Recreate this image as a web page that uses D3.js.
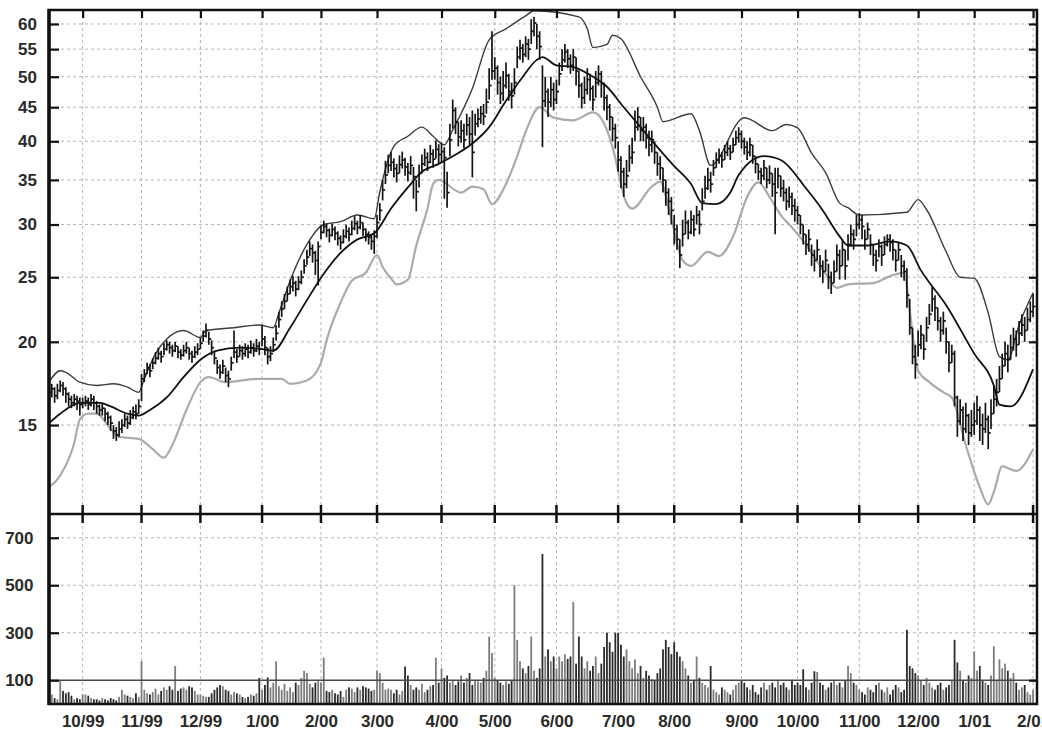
<!DOCTYPE html>
<html>
<head>
<meta charset="utf-8">
<script src="https://cdn.jsdelivr.net/npm/d3@7"></script>
<style>
body { margin: 0; background: #fff; }
svg { display: block; font-family: "Liberation Sans", Arial, sans-serif; }
</style>
</head>
<body>
<svg width="1042" height="731"></svg>
<script>
// month ticks (trading-day index of first day of each month)
var monthDays = [12, 33, 54, 76, 97, 117, 140, 159, 181, 203, 223, 247, 267, 289, 310, 330, 351];
var monthLabels = ["10/99", "11/99", "12/99", "1/00", "2/00", "3/00", "4/00", "5/00", "6/00",
                   "7/00", "8/00", "9/00", "10/00", "11/00", "12/00", "1/01", "2/01"];
var priceTicks = [15, 20, 25, 30, 35, 40, 45, 50, 55, 60];
var volTicks = [100, 300, 500, 700];

// daily closes, one row per month (sep99 .. feb01)
var close = [
  16.8, 17.0, 16.6, 16.9, 17.2, 17.0, 16.7, 16.4, 16.2, 16.4, 16.3, 16.1,
  16.2, 16.3, 16.1, 16.4, 16.2, 16.0, 15.8, 15.9, 15.6, 15.4, 15.1, 14.7, 14.5, 14.8, 15.0, 15.3, 15.1, 15.4, 15.7, 15.6, 16.0,
  17.6, 17.9, 18.3, 18.1, 18.6, 18.9, 19.2, 19.0, 19.5, 19.8, 19.6, 19.4, 19.7, 19.3, 19.1, 19.4, 19.6, 19.2, 19.0, 19.3, 19.5,
  19.9, 20.4, 20.8, 20.2, 19.6, 18.9, 18.3, 18.0, 18.4, 17.8, 17.6, 18.6, 19.3, 19.0, 19.4, 19.2, 19.5, 19.3, 19.6, 19.4, 19.7, 19.5,
  20.2, 19.6, 19.0, 19.2, 19.8, 20.6, 21.6, 22.4, 23.0, 23.6, 24.2, 24.5, 24.0, 24.6, 25.0, 26.0, 26.8, 27.6, 27.2, 26.5, 27.8,
  29.2, 29.8, 29.4, 28.9, 29.5, 29.1, 28.6, 28.2, 28.8, 29.3, 29.0, 29.6, 30.1, 29.7, 30.2, 29.5, 29.0, 28.7, 28.3, 28.8,
  30.2, 31.5, 33.8, 35.6, 36.8, 37.2, 36.4, 35.8, 36.9, 37.5, 36.6, 35.9, 36.8, 35.4, 33.6, 35.8, 37.0, 37.8, 37.2, 38.3, 37.6, 38.9, 38.2,
  38.6, 37.8, 33.5, 40.2, 44.5, 42.8, 40.6, 41.5, 40.2, 42.3, 41.0, 38.5, 42.5, 43.2, 44.0, 43.6, 45.8, 48.5, 51.0,
  51.5, 49.0, 47.2, 48.5, 50.2, 47.5, 46.8, 49.0, 53.5, 55.2, 54.0, 56.0, 55.0, 58.5, 60.2, 57.5, 55.5, 46.0, 47.5, 45.8, 47.8, 46.2,
  47.5, 50.5, 53.0, 54.5, 53.2, 52.0, 53.5, 51.0, 48.5, 46.5, 47.8, 49.5, 48.0, 46.2, 49.0, 50.5, 48.8, 46.5, 45.0, 43.5, 41.8, 40.5,
  37.5, 36.0, 34.5, 35.5, 37.8, 38.5, 42.0, 43.5, 41.5, 42.0, 40.5, 39.5, 40.2, 38.5, 37.0, 36.5, 35.0, 33.5, 32.5, 31.5,
  29.5, 28.5, 27.0, 29.0, 30.2, 29.2, 30.5, 29.5, 31.0, 30.0, 32.5, 34.0, 35.0, 34.5, 36.5, 37.5, 38.0, 37.5, 38.5, 39.0, 38.5, 39.5, 40.5, 41.0,
  40.0, 39.2, 38.5, 39.5, 38.0, 37.0, 36.0, 35.5, 36.5, 35.0, 35.8, 34.5, 33.5, 35.5, 34.0, 33.5, 32.5, 33.0, 32.0, 31.5,
  31.0, 30.0, 29.0, 28.0, 28.5, 27.0, 26.5, 27.5, 26.0, 25.5, 26.5, 25.0, 24.5, 25.5, 27.0, 26.0, 27.5, 26.0, 28.0, 29.0, 28.5, 30.0,
  30.5, 29.8, 28.5, 29.5, 28.0, 27.0, 26.5, 27.8, 27.0, 28.0, 28.5, 28.2, 27.5, 26.5, 27.5, 26.0, 25.5, 23.5, 21.0, 19.0, 18.5,
  19.8, 20.5, 19.5, 21.0, 22.0, 23.2, 22.5, 21.5, 20.8, 21.5, 20.0, 18.6, 19.2, 16.5, 15.2, 15.8, 14.8, 15.5, 14.6, 15.0,
  15.2, 15.8, 15.0, 14.8, 15.3, 14.6, 15.6, 16.4, 16.8, 17.6, 18.4, 19.2, 18.8, 19.6, 20.2, 19.8, 20.6, 21.2, 20.8, 21.6, 22.2,
  22.6
];

var high = [
  17.2, 17.3, 17.1, 17.3, 17.5, 17.4, 17.1, 16.8, 16.6, 16.7, 16.6, 16.5,
  16.5, 16.6, 16.5, 16.7, 16.6, 16.3, 16.1, 16.2, 15.9, 15.7, 15.5, 15.0, 14.9, 15.2, 15.3, 15.6, 15.5, 15.8, 16.0, 16.1, 16.4,
  17.9, 18.2, 18.6, 18.5, 18.9, 19.3, 19.6, 19.4, 19.9, 20.1, 20.0, 19.8, 20.0, 19.7, 19.5, 19.8, 20.0, 19.6, 19.4, 19.7, 19.9,
  20.3, 20.8, 21.3, 20.7, 20.1, 19.4, 18.8, 18.5, 18.8, 18.3, 18.1, 19.0, 20.8, 19.5, 19.8, 19.7, 19.9, 19.8, 20.1, 19.9, 20.2, 20.0,
  21.2, 20.4, 19.6, 19.7, 20.3, 21.2, 22.2, 23.0, 23.6, 24.2, 24.8, 25.1, 24.7, 25.1, 25.6, 26.6, 27.5, 28.3, 28.0, 27.4, 28.3,
  29.9, 30.4, 30.1, 29.6, 30.1, 29.8, 29.3, 28.9, 29.5, 30.0, 29.7, 30.4, 30.9, 30.4, 31.0, 30.2, 29.6, 29.3, 29.0, 29.4,
  31.0, 32.3, 35.0, 37.4, 38.2, 38.5, 37.7, 37.0, 38.1, 38.6, 37.8, 37.1, 38.0, 36.6, 35.0, 36.9, 38.2, 39.0, 38.5, 39.5, 38.9, 40.1, 39.6,
  39.8, 39.2, 36.0, 42.5, 46.2, 45.0, 42.8, 43.0, 42.5, 44.0, 43.5, 44.5, 44.0, 44.8, 45.2, 45.5, 48.0, 51.5, 58.5,
  53.5, 52.0, 50.0, 51.0, 52.5, 50.5, 49.0, 51.5, 55.5, 56.8, 56.0, 57.5, 57.0, 61.0, 61.5, 60.0, 58.5, 52.0, 50.0, 48.0, 50.0, 49.0,
  49.5, 52.5, 55.0, 56.0, 55.0, 54.0, 55.0, 53.5, 51.0, 49.0, 50.0, 51.5, 50.5, 48.5, 51.0, 52.0, 51.0, 49.0, 47.0, 45.5, 43.5, 42.5,
  40.0, 38.0, 36.5, 37.5, 39.5, 40.5, 44.5, 45.0, 43.5, 43.5, 42.5, 41.5, 41.5, 40.0, 38.5, 38.0, 36.5, 35.0, 34.0, 33.0,
  31.0, 30.0, 28.5, 30.5, 31.5, 30.5, 31.5, 31.0, 32.0, 31.5, 34.0, 35.5, 36.5, 36.0, 37.5, 38.5, 39.0, 38.5, 39.5, 40.0, 39.5, 40.5, 41.5, 42.0,
  41.5, 40.5, 40.0, 40.5, 39.5, 38.0, 37.0, 36.5, 37.5, 36.5, 36.8, 35.8, 36.5, 36.5, 35.5, 35.0, 34.0, 34.2, 33.5, 32.8,
  32.0, 31.0, 30.0, 29.0, 29.5, 28.0, 27.5, 28.5, 27.0, 26.5, 27.5, 26.2, 25.5, 26.5, 28.0, 27.5, 28.5, 27.5, 29.0, 30.0, 29.5, 31.0,
  31.2, 31.0, 29.5, 30.2, 29.0, 28.0, 27.5, 28.5, 28.0, 28.8, 29.0, 29.0, 28.5, 27.5, 28.2, 27.0, 26.5, 25.8, 23.2, 21.0, 19.8,
  20.8, 21.2, 20.5, 21.8, 22.8, 24.2, 23.5, 22.5, 21.8, 22.2, 21.0, 20.0, 19.8, 19.4, 16.6, 16.4, 16.0, 16.2, 15.6, 15.8,
  16.2, 16.6, 16.0, 15.6, 16.2, 15.5, 16.4, 17.2, 17.6, 18.4, 19.2, 20.0, 19.8, 20.5, 21.0, 20.8, 21.5, 22.0, 21.8, 22.5, 23.0,
  23.6
];

var low = [
  16.3, 16.5, 16.2, 16.4, 16.8, 16.6, 16.2, 16.0, 15.9, 16.0, 15.8, 15.5,
  15.9, 16.0, 15.8, 16.0, 15.8, 15.6, 15.5, 15.5, 15.2, 15.0, 14.7, 14.3, 14.2, 14.4, 14.6, 14.9, 14.8, 15.0, 15.3, 15.3, 15.6,
  16.3, 17.4, 17.9, 17.7, 18.2, 18.5, 18.8, 18.6, 19.1, 19.4, 19.2, 19.0, 19.3, 18.9, 18.8, 19.0, 19.2, 18.8, 18.6, 18.9, 19.1,
  19.5, 20.0, 20.3, 19.8, 19.1, 18.5, 17.9, 17.6, 17.9, 17.4, 17.1, 18.1, 18.9, 18.6, 19.0, 18.8, 19.0, 18.9, 19.2, 19.0, 19.3, 19.1,
  19.7, 19.1, 18.5, 18.7, 19.3, 20.1, 21.0, 21.8, 22.4, 23.0, 23.6, 23.8, 23.4, 23.9, 24.4, 25.3, 26.1, 26.9, 26.3, 25.2, 24.3,
  28.5, 29.1, 28.7, 28.2, 28.8, 28.4, 27.9, 27.5, 28.1, 28.6, 28.3, 28.9, 29.4, 29.0, 29.5, 28.8, 28.3, 28.0, 27.5, 27.1,
  28.6, 30.4, 32.6, 34.5, 35.8, 36.1, 35.3, 34.7, 35.8, 36.4, 35.5, 34.8, 35.6, 32.8, 31.4, 34.1, 35.8, 36.7, 36.1, 37.1, 36.5, 37.7, 37.0,
  37.2, 32.8, 31.8, 38.0, 41.8, 41.0, 39.3, 39.8, 39.0, 40.8, 39.5, 35.3, 40.8, 42.0, 42.5, 42.3, 44.0, 46.2, 49.5,
  49.5, 47.0, 45.5, 46.0, 48.0, 46.0, 44.8, 47.0, 51.5, 53.0, 52.5, 53.5, 53.0, 56.0, 57.5, 55.0, 53.0, 39.2, 45.0, 43.5, 45.0, 44.5,
  45.5, 48.5, 51.0, 52.5, 51.5, 50.5, 51.0, 48.5, 46.5, 44.8, 45.5, 47.0, 46.0, 44.5, 46.5, 48.5, 46.5, 44.5, 43.0, 41.5, 40.0, 39.0,
  36.0, 34.0, 33.0, 34.0, 36.0, 37.0, 40.0, 41.5, 40.0, 40.0, 39.0, 38.0, 38.5, 37.0, 35.5, 35.0, 33.5, 32.0, 31.0, 30.0,
  28.0, 27.5, 25.8, 27.8, 29.0, 28.5, 29.0, 28.8, 30.0, 29.0, 31.5, 32.8, 33.8, 33.5, 35.5, 36.5, 37.0, 36.5, 37.5, 38.0, 37.5, 38.5, 39.5, 39.8,
  39.0, 38.2, 37.5, 38.0, 37.0, 35.8, 35.0, 34.5, 35.0, 34.0, 34.5, 33.0, 29.0, 34.0, 33.0, 32.5, 31.5, 31.8, 31.0, 30.3,
  30.0, 29.0, 28.0, 27.0, 27.3, 26.0, 25.5, 26.5, 25.0, 24.5, 25.5, 24.0, 23.6, 24.5, 25.5, 24.8, 26.0, 24.8, 26.5, 27.8, 27.5, 28.8,
  29.5, 28.5, 27.5, 28.5, 27.0, 26.0, 25.5, 26.8, 26.0, 27.0, 27.8, 27.3, 26.5, 25.5, 26.5, 25.0, 24.7, 22.5, 20.5, 18.5, 17.6,
  19.0, 19.5, 18.8, 20.0, 21.2, 22.2, 21.5, 20.8, 20.0, 20.5, 19.2, 18.0, 18.6, 16.0, 14.4, 15.0, 14.2, 14.6, 14.0, 14.4,
  14.5, 15.0, 14.2, 14.0, 14.6, 13.8, 14.8, 15.6, 16.0, 16.8, 17.6, 18.4, 18.0, 18.8, 19.4, 19.0, 19.8, 20.4, 20.0, 20.8, 21.4,
  21.8
];

// daily volume (same day order)
var volume = [
  30, 40, 25, 20, 96, 55, 45, 50, 35, 20, 25, 20,
  40, 40, 35, 25, 20, 20, 15, 25, 20, 15, 25, 20, 15, 30, 60, 40, 35, 30, 25, 45, 30,
  180, 60, 45, 40, 50, 65, 40, 55, 70, 60, 75, 60, 160, 55, 65, 70, 60, 75, 70, 55, 40,
  40, 35, 30, 30, 45, 60, 70, 80, 75, 60, 55, 40, 50, 45, 40, 30, 25, 30, 40, 35, 45, 110,
  60, 80, 112, 70, 90, 179, 75, 60, 85, 55, 70, 50, 90, 80, 110, 140, 130, 85, 70, 90, 100,
  90, 195, 55, 50, 60, 45, 40, 55, 30, 60, 70, 65, 50, 70, 60, 75, 70, 65, 55, 60,
  140, 130, 90, 60, 65, 60, 45, 60, 40, 55, 158, 120, 80, 60, 70, 60, 85, 50, 60, 75, 80, 195, 90,
  150, 110, 120, 90, 100, 80, 95, 120, 90, 110, 130, 80, 100, 95, 90, 110, 140, 284, 215,
  110, 100, 90, 80, 95, 85, 100, 500, 270, 180, 150, 130, 160, 284, 140, 110, 150, 632, 200, 230, 180, 200,
  150, 200, 180, 210, 190, 200, 430, 170, 284, 200, 150, 180, 140, 160, 200, 130, 170, 240, 300, 260, 220, 300,
  300, 250, 200, 230, 180, 150, 188, 130, 160, 110, 140, 120, 104, 100, 130, 150, 230, 270, 240, 210,
  260, 220, 200, 180, 150, 120, 90, 100, 200, 110, 90, 80, 70, 160, 60, 50, 40, 70, 60, 50, 40, 60, 80, 90,
  100, 90, 70, 60, 80, 50, 40, 70, 90, 60, 80, 90, 70, 100, 80, 90, 70, 60, 100, 80,
  90, 80, 146, 70, 60, 90, 138, 135, 90, 80, 60, 70, 90, 100, 80, 90, 70, 100, 160, 130, 90, 80,
  60, 50, 40, 70, 60, 50, 80, 90, 60, 50, 70, 40, 60, 80, 70, 50, 60, 312, 160, 150, 130,
  120, 100, 80, 110, 90, 70, 60, 80, 90, 60, 70, 80, 100, 270, 175, 140, 100, 90, 120, 110,
  222, 140, 160, 100, 90, 80, 120, 243, 100, 188, 150, 170, 140, 110, 130, 90, 60, 70, 80, 50, 40,
  60
];

// moving average and band lines, read at key days
var midDay = [0, 4, 11, 18, 22, 28, 32, 36, 42, 48, 54, 60, 68, 76, 80, 86, 92, 98, 104, 110, 116, 122, 128, 133, 139,
  146, 151, 157, 163, 169, 174, 176, 181, 187, 193, 199, 205, 211, 217, 223, 229, 233, 238, 243, 246, 255, 261, 270,
  276, 282, 285, 292, 300, 306, 311, 320, 330, 337, 339, 343, 351];
var midVal = [15.1, 15.6, 16.2, 16.2, 16.0, 15.6, 15.5, 15.8, 16.5, 17.7, 18.8, 19.4, 19.6, 19.5, 19.4, 21.0, 23.1, 25.3,
  27.2, 28.5, 29.1, 31.7, 34.1, 36.0, 37.0, 38.4, 39.7, 42.0, 46.0, 50.0, 53.0, 53.5, 52.0, 51.7, 50.3, 48.3, 45.0, 42.0,
  39.2, 36.7, 34.5, 32.3, 32.2, 33.5, 35.6, 38.0, 37.5, 34.0, 31.5, 28.8, 27.9, 27.9, 28.3, 27.9, 25.6, 22.7, 19.2, 17.2,
  16.1, 16.0, 18.2];

var upDay = [0, 4, 6, 11, 17, 23, 28, 32, 34, 38, 42, 48, 54, 56, 66, 75, 80, 82, 86, 92, 98, 104, 110, 116, 118, 123,
  128, 133, 137, 141, 144, 151, 157, 163, 170, 173, 189, 192, 194, 199, 201, 204, 211, 217, 219, 229, 232, 236, 248, 258,
  263, 267, 272, 277, 282, 285, 289, 306, 310, 313, 320, 325, 330, 335, 339, 342, 346, 351];
var upVal = [17.4, 18.1, 18.0, 17.4, 17.2, 17.3, 17.1, 16.8, 17.6, 19.2, 20.2, 20.8, 20.3, 20.8, 21.0, 21.2, 21.0, 22.1,
  24.7, 28.0, 30.0, 30.3, 31.0, 30.6, 33.6, 39.3, 40.7, 42.0, 40.7, 39.5, 41.6, 48.0, 56.8, 59.0, 61.7, 62.8, 61.5, 59.0,
  55.3, 55.9, 57.7, 57.0, 50.0, 45.0, 42.8, 44.0, 41.5, 36.8, 43.4, 41.5, 42.4, 41.9, 38.4, 35.9, 32.3, 31.8, 31.0, 31.3,
  32.7, 31.6, 27.3, 25.0, 24.9, 22.1, 19.0, 18.8, 21.2, 23.7];

var loDay = [0, 4, 9, 11, 14, 17, 22, 25, 32, 37, 41, 44, 49, 54, 57, 63, 75, 83, 86, 92, 97, 99, 104, 108, 113, 117,
  119, 122, 124, 128, 131, 135, 137, 139, 147, 151, 155, 158, 163, 167, 170, 175, 180, 187, 194, 199, 201, 206, 208, 215,
  218, 222, 226, 229, 235, 239, 244, 249, 253, 257, 261, 265, 270, 277, 281, 285, 294, 300, 305, 307, 310, 314, 319, 322,
  327, 332, 335, 337, 340, 345, 351];
var loVal = [12.1, 12.6, 14.1, 15.3, 15.6, 15.6, 14.8, 14.4, 14.3, 13.8, 13.4, 14.0, 15.8, 17.4, 17.7, 17.4, 17.6, 17.6,
  17.3, 17.5, 18.6, 20.1, 22.9, 24.7, 25.4, 27.0, 25.9, 24.9, 24.4, 24.8, 27.9, 31.7, 34.5, 35.0, 33.5, 34.2, 33.9, 32.2,
  34.5, 38.0, 41.3, 45.0, 43.4, 43.0, 44.2, 41.6, 39.2, 32.3, 31.7, 34.2, 34.8, 30.5, 26.5, 26.0, 27.3, 26.9, 28.8, 33.0,
  34.7, 33.0, 31.0, 29.7, 28.0, 25.3, 24.1, 24.4, 24.5, 25.1, 25.4, 22.3, 18.1, 17.4, 16.8, 16.5, 14.0, 12.1, 11.4, 11.9,
  13.0, 12.8, 13.8];

var svg = d3.select("svg"),
    width = +svg.attr("width"),
    height = +svg.attr("height");

// plot edges (note: "top" is reserved on window, so use other names)
var padL = 49, padR = 1037, yTop = 10, yMid = 514, yBot = 704;

var x = d3.scaleLinear().domain([0, 352.4]).range([padL, padR]);
var y = d3.scaleLog().domain([11.03, 62.97]).range([yMid, yTop]);
var yv = d3.scaleLinear().domain([0, 800]).range([yBot, yMid]);

var days = close.map(function(c, i) {
  return {i: i, c: c, h: high[i], l: low[i], v: volume[i], up: i == 0 || c >= close[i - 1]};
});

svg.append('defs').append('clipPath').attr('id', 'pclip')
  .append('rect').attr('x', padL).attr('y', yTop).attr('width', padR - padL).attr('height', yMid - yTop);

// grid
var grid = svg.append('g')
  .attr('stroke', '#b5b5b5')
  .attr('stroke-width', 1)
  .attr('stroke-dasharray', '3,3');

grid.selectAll('.gh').data(priceTicks).enter().append('line')
  .attr('x1', padL).attr('x2', padR)
  .attr('y1', d => y(d)).attr('y2', d => y(d));

grid.selectAll('.gv').data([300, 500, 700]).enter().append('line')
  .attr('x1', padL).attr('x2', padR)
  .attr('y1', d => yv(d)).attr('y2', d => yv(d));

grid.selectAll('.gx').data(monthDays).enter().append('line')
  .attr('x1', d => x(d)).attr('x2', d => x(d))
  .attr('y1', yTop).attr('y2', yBot);

// bands
var pg = svg.append('g').attr('clip-path', 'url(#pclip)');

function bandLine(dayArr, valArr) {
  return d3.line()
    .x(function(d, i) { return x(dayArr[i]); })
    .y(function(d) { return y(d); })
    .curve(d3.curveMonotoneX)(valArr);
}

pg.append('path').attr('d', bandLine(loDay, loVal))
  .attr('fill', 'none').attr('stroke', '#ababab').attr('stroke-width', 2.2);
pg.append('path').attr('d', bandLine(upDay, upVal))
  .attr('fill', 'none').attr('stroke', '#3c3c3c').attr('stroke-width', 1.4);

// OHLC bars
var bars = pg.append('g').attr('stroke', '#141414').attr('stroke-width', 1.7);
bars.selectAll('.hl').data(days).enter().append('line')
  .attr('x1', d => x(d.i)).attr('x2', d => x(d.i))
  .attr('y1', d => y(d.h)).attr('y2', d => y(d.l));
bars.selectAll('.cl').data(days).enter().append('line')
  .attr('x1', d => x(d.i)).attr('x2', d => x(d.i) + 2.5)
  .attr('y1', d => y(d.c)).attr('y2', d => y(d.c));

pg.append('path').attr('d', bandLine(midDay, midVal))
  .attr('fill', 'none').attr('stroke', '#111').attr('stroke-width', 1.8);

// volume bars
svg.append('g').selectAll('rect').data(days).enter().append('rect')
  .attr('x', d => x(d.i) - 0.9)
  .attr('width', 1.8)
  .attr('y', d => yv(d.v))
  .attr('height', d => yBot - yv(d.v))
  .attr('fill', d => d.up ? '#7d7d7d' : '#2b2b2b');

svg.append('line')
  .attr('x1', padL).attr('x2', padR)
  .attr('y1', yv(100)).attr('y2', yv(100))
  .attr('stroke', '#4a4a4a').attr('stroke-width', 1.5);

// axes
function styleAxis(g) {
  g.select('.domain').remove();
  g.selectAll('.tick line').attr('stroke', '#111').attr('stroke-width', 2.2);
  g.selectAll('.tick text')
    .attr('fill', '#2a2a2a')
    .style('font-size', '17px')
    .style('font-weight', 'bold')
    .style('font-family', '"Liberation Sans", Arial, sans-serif');
}

svg.append('g').attr('transform', 'translate(' + padL + ',0)')
  .call(d3.axisLeft(y).tickValues(priceTicks).tickFormat(d3.format('d')).tickSize(-10).tickPadding(12))
  .call(styleAxis);
svg.append('g').attr('transform', 'translate(' + padR + ',0)')
  .call(d3.axisRight(y).tickValues(priceTicks).tickFormat('').tickSize(-8))
  .call(styleAxis);

svg.append('g').attr('transform', 'translate(' + padL + ',0)')
  .call(d3.axisLeft(yv).tickValues(volTicks).tickFormat(d3.format('d')).tickSize(-10).tickPadding(15.5))
  .call(styleAxis);
svg.append('g').attr('transform', 'translate(' + padR + ',0)')
  .call(d3.axisRight(yv).tickValues(volTicks).tickFormat('').tickSize(-8))
  .call(styleAxis);

svg.append('g').attr('transform', 'translate(0,' + yTop + ')')
  .call(d3.axisTop(x).tickValues(monthDays).tickFormat('').tickSize(-8))
  .call(styleAxis);

// ticks crossing the panel divider
svg.append('g').selectAll('line').data(monthDays).enter().append('line')
  .attr('x1', d => x(d)).attr('x2', d => x(d))
  .attr('y1', yMid - 9).attr('y2', yMid + 9)
  .attr('stroke', '#111').attr('stroke-width', 2.5);

svg.append('g').attr('transform', 'translate(0,' + yBot + ')')
  .call(d3.axisBottom(x).tickValues(monthDays)
    .tickFormat(function(d, i) { return monthLabels[i]; })
    .tickSize(0).tickPadding(11))
  .call(styleAxis);

// frame
var frame = svg.append('g').attr('stroke', '#111').attr('fill', 'none');
frame.append('rect').attr('x', padL).attr('y', yTop)
  .attr('width', padR - padL).attr('height', yBot - yTop).attr('stroke-width', 2.5);
frame.append('line').attr('x1', padL).attr('x2', padR).attr('y1', yMid).attr('y2', yMid).attr('stroke-width', 2.5);
frame.append('line').attr('x1', padL).attr('x2', padL).attr('y1', yTop - 1).attr('y2', yBot + 1).attr('stroke-width', 3.5);
</script>
</body>
</html>
